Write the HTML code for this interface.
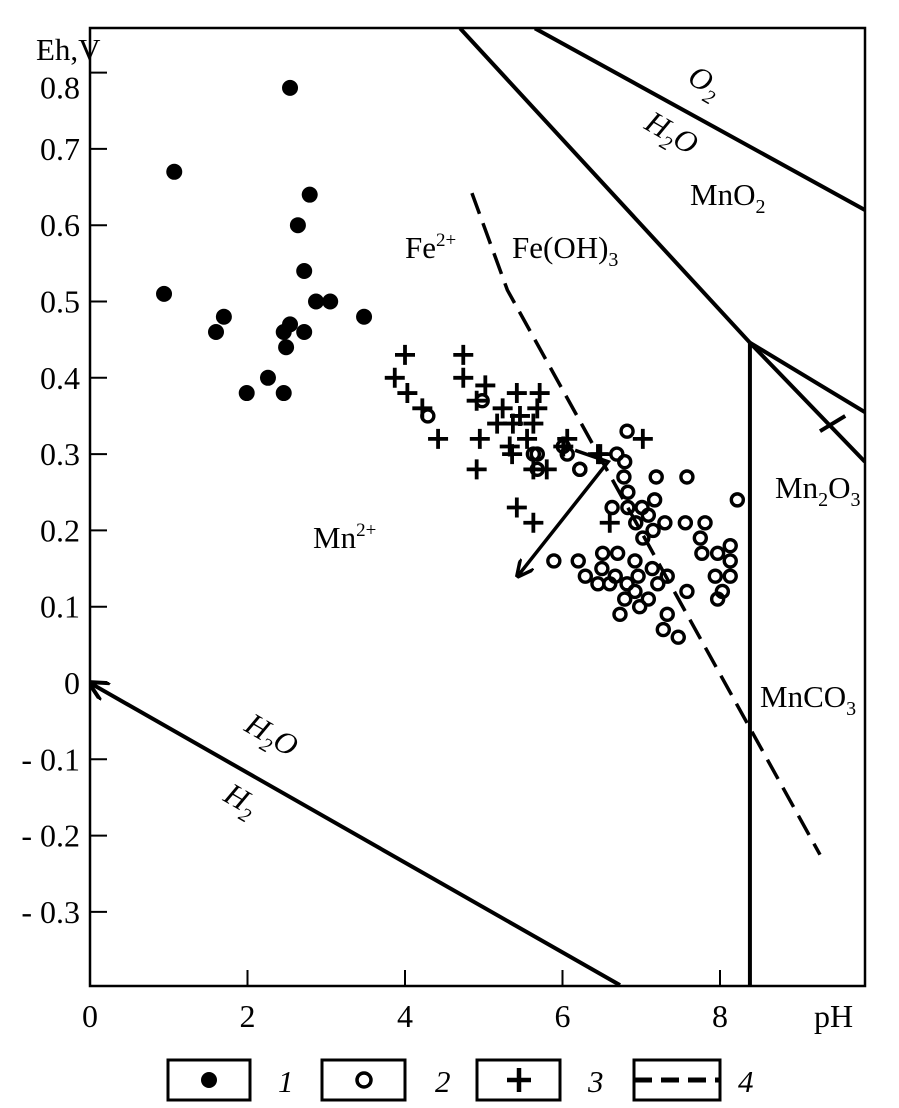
<!DOCTYPE html>
<html><head><meta charset="utf-8">
<style>
body{margin:0;background:#fff;}
svg{display:block;font-family:"Liberation Serif",serif;}
</style></head>
<body>
<svg id="chart" width="899" height="1108" viewBox="0 0 899 1108" xmlns="http://www.w3.org/2000/svg">
<defs>
<clipPath id="clip"><rect x="90" y="28" width="775" height="958"/></clipPath>
<marker id="ah" viewBox="0 0 10 10" refX="9" refY="5" markerWidth="5" markerHeight="5" orient="auto"><path d="M0,0 L10,5 L0,10" fill="none" stroke="#000" stroke-width="2"/></marker>
</defs>
<rect x="90" y="28" width="775" height="958" fill="none" stroke="#000" stroke-width="2.5"/>
<g id="ticks"></g>
<g id="lines" clip-path="url(#clip)"></g>
<g id="pts"></g>
<text x="36" y="60" font-size="31">Eh,V</text>
<text x="814" y="1027" font-size="32">pH</text>
<g font-size="31">
<text transform="translate(686,82) rotate(30)" font-style="italic">O<tspan font-size="20" dy="8">2</tspan></text>
<text transform="translate(643,128) rotate(30)" font-style="italic">H<tspan font-size="20" dy="8">2</tspan><tspan dy="-8">O</tspan></text>
<text x="690" y="205">MnO<tspan font-size="20" dy="8">2</tspan></text>
<text x="405" y="258">Fe<tspan font-size="19" dy="-12">2+</tspan></text>
<text x="512" y="258">Fe(OH)<tspan font-size="20" dy="8">3</tspan></text>
<text x="775" y="498">Mn<tspan font-size="20" dy="8">2</tspan><tspan dy="-8">O</tspan><tspan font-size="20" dy="8">3</tspan></text>
<text x="313" y="548">Mn<tspan font-size="19" dy="-12">2+</tspan></text>
<text x="760" y="707">MnCO<tspan font-size="20" dy="8">3</tspan></text>
<text transform="translate(243,730) rotate(30)" font-style="italic">H<tspan font-size="20" dy="8">2</tspan><tspan dy="-8">O</tspan></text>
<text transform="translate(222,800) rotate(30)" font-style="italic">H<tspan font-size="20" dy="8">2</tspan></text>
</g>
<g>
<rect x="168" y="1060" width="82" height="40" fill="none" stroke="#000" stroke-width="3"/>
<circle cx="209" cy="1080" r="8" fill="#000"/>
<text x="278" y="1092" font-size="31" font-style="italic">1</text>
<rect x="322" y="1060" width="83" height="40" fill="none" stroke="#000" stroke-width="3"/>
<circle cx="364" cy="1080" r="7" fill="none" stroke="#000" stroke-width="3.5"/>
<text x="435" y="1092" font-size="31" font-style="italic">2</text>
<rect x="477" y="1060" width="83" height="40" fill="none" stroke="#000" stroke-width="3"/>
<path d="M507,1080 H531 M519,1068 V1092" stroke="#000" stroke-width="4.5"/>
<text x="588" y="1092" font-size="31" font-style="italic">3</text>
<rect x="634" y="1060" width="86" height="40" fill="none" stroke="#000" stroke-width="3"/>
<line x1="634" y1="1080" x2="720" y2="1080" stroke="#000" stroke-width="5" stroke-dasharray="18,9"/>
<text x="738" y="1092" font-size="31" font-style="italic">4</text>
</g>
</svg>
<script>
const xTicks=[0,2,4,6,8];
const yTicks=[0.8,0.7,0.6,0.5,0.4,0.3,0.2,0.1,0,-0.1,-0.2,-0.3];
const yTickLabels=["0.8","0.7","0.6","0.5","0.4","0.3","0.2","0.1","0","- 0.1","- 0.2","- 0.3"];
const filledPH=[2.54,1.07,2.79,2.64,0.94,2.72,1.70,1.60,2.87,3.05,3.48,2.54,2.46,2.72,2.49,2.26,1.99,2.46];
const filledEh=[0.78,0.67,0.64,0.60,0.51,0.54,0.48,0.46,0.50,0.50,0.48,0.47,0.46,0.46,0.44,0.40,0.38,0.38];
const openPH=[6.82,6.69,6.79,7.19,7.58,8.22,6.78,6.83,6.63,6.83,7.01,7.17,7.09,7.30,6.93,7.15,7.02,7.56,7.81,7.75,7.77,8.13,7.97,8.13,7.94,8.13,8.03,7.97,5.89,6.20,6.29,6.45,6.51,6.70,6.50,6.67,6.60,6.82,6.92,6.96,7.14,7.33,7.21,6.92,7.09,6.79,6.98,6.73,7.58,7.33,7.28,7.47,6.22,6.01,6.06,5.68,5.68,4.29,5.63,4.98,6.22];
const openEh=[0.33,0.30,0.29,0.27,0.27,0.24,0.27,0.25,0.23,0.23,0.23,0.24,0.22,0.21,0.21,0.20,0.19,0.21,0.21,0.19,0.17,0.18,0.17,0.16,0.14,0.14,0.12,0.11,0.16,0.16,0.14,0.13,0.17,0.17,0.15,0.14,0.13,0.13,0.16,0.14,0.15,0.14,0.13,0.12,0.11,0.11,0.10,0.09,0.12,0.09,0.07,0.06,0.28,0.31,0.30,0.30,0.28,0.35,0.30,0.37,0.28];
const crossPH=[7.02,6.60,6.48,4.00,4.74,3.87,4.74,4.03,5.02,4.22,4.91,4.42,4.95,4.91,5.42,5.71,5.24,5.46,5.68,5.17,5.37,5.63,5.33,5.55,5.36,5.63,6.06,6.01,6.45,5.42,5.63,5.80];
const crossEh=[0.32,0.21,0.30,0.43,0.43,0.40,0.40,0.38,0.39,0.36,0.37,0.32,0.32,0.28,0.38,0.38,0.36,0.35,0.36,0.34,0.34,0.34,0.31,0.32,0.30,0.28,0.32,0.31,0.30,0.23,0.21,0.28];
const lineO2=[[5.65,0.858],[9.84,0.62]];
const lineMnO2=[[4.70,0.858],[8.38,0.446]];
const lineMnO2Mn2O3=[[8.38,0.446],[9.84,0.355]];
const lineMn2O3=[[8.38,0.446],[9.84,0.29]];
const lineMnCO3=[[8.38,0.446],[8.38,-0.4]];
const lineMark=[[9.27,0.33],[9.59,0.35]];
const lineFe=[[4.85,0.642],[5.3,0.515],[9.27,-0.225]];
const lineH2=[[6.73,-0.396],[0,0]];
const lineArrow=[[6.16,0.305],[6.58,0.29],[5.43,0.14]];

const NS="http://www.w3.org/2000/svg";
const X=v=>90+v*78.75, Y=v=>683-v*763;
function mk(tag,attrs,parent){const e=document.createElementNS(NS,tag);for(const k in attrs)e.setAttribute(k,attrs[k]);parent.appendChild(e);return e;}
const tg=document.getElementById('ticks');
xTicks.forEach(t=>{
  const l=mk('line',{x1:X(t),x2:X(t),y1:986,y2:970,stroke:'#000','stroke-width':2},tg);
  
  
  const tx=mk('text',{x:X(t),y:1027,'font-size':32,'text-anchor':'middle'},tg);
  
  
  tx.textContent=t;
});
yTicks.forEach((t,i)=>{
  const l=mk('line',{x1:90,x2:107,y1:Y(t),y2:Y(t),stroke:'#000','stroke-width':2},tg);
  
  
  const tx=mk('text',{x:80,y:Y(t)+(t>0.75?26:11),'font-size':32,'text-anchor':'end'},tg);
  
  
  tx.textContent=yTickLabels[i];
});
const lg=document.getElementById('lines');
function poly(pts,name,extra){
  const p=mk('polyline',Object.assign({points:pts.map(q=>X(q[0])+','+Y(q[1])).join(' '),fill:'none',stroke:'#000','stroke-width':4},extra||{}),lg);
  
  
}
poly(lineO2,'o2-h2o-line');
poly(lineMnO2,'mno2-mn2-boundary');
poly(lineMnO2Mn2O3,'mno2-mn2o3-boundary');
poly(lineMn2O3,'mn2o3-boundary');
poly(lineMnCO3,'mnco3-boundary');
poly(lineMark,'boundary-mark');
poly(lineFe,'fe-boundary-dashed',{'stroke-dasharray':'22,10','stroke-width':3.5});
poly(lineH2,'h2o-h2-line',{'marker-end':'url(#ah)'});
poly(lineArrow,'trend-arrow',{'stroke-width':3.5,'marker-end':'url(#ah)'});
const pg=document.getElementById('pts');
filledPH.forEach((v,i)=>{
  const c=mk('circle',{cx:X(v),cy:Y(filledEh[i]),r:8,fill:'#000'},pg);
  
  
});
openPH.forEach((v,i)=>{
  const c=mk('circle',{cx:X(v),cy:Y(openEh[i]),r:6,fill:'#fff','fill-opacity':0,stroke:'#000','stroke-width':3.4},pg);
  
  
});
crossPH.forEach((v,i)=>{
  const x=X(v),y=Y(crossEh[i]);
  const c=mk('path',{d:`M${x-10},${y} H${x+10} M${x},${y-10} V${y+10}`,stroke:'#000','stroke-width':3.8},pg);
  
  
});
</script>
</body></html>
